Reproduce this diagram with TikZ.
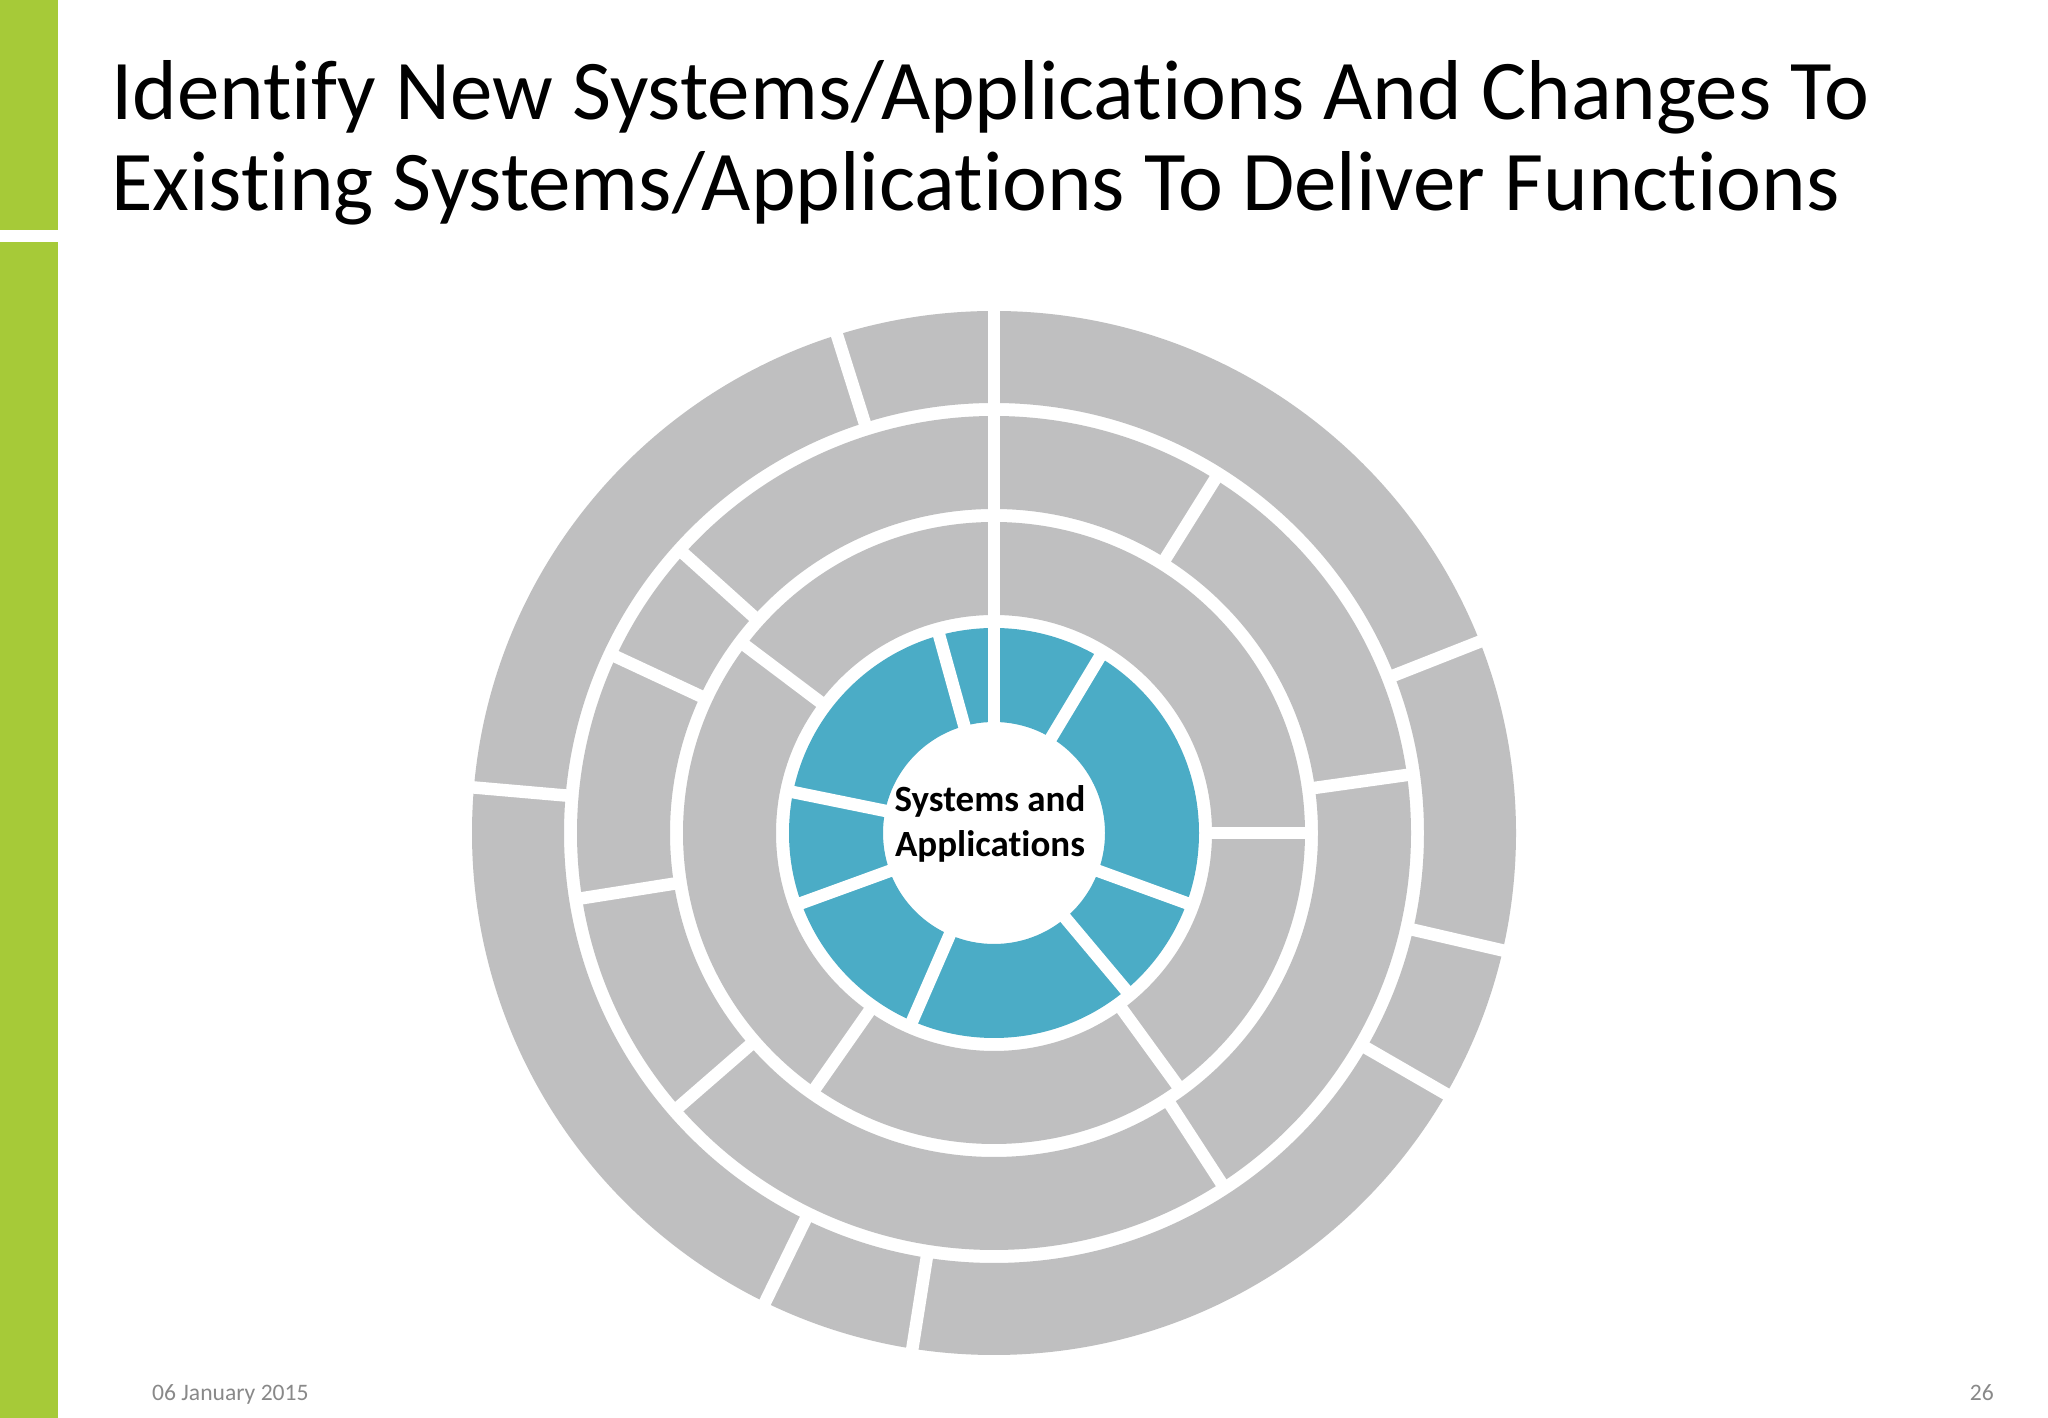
\documentclass[tikz,border=0pt]{standalone}
\usepackage{fontspec}
\setmainfont{Carlito}[Ligatures=NoCommon,RawFeature=-liga]
\definecolor{barGreen}{RGB}{166,202,56}
\definecolor{ringGray}{RGB}{191,191,192}
\definecolor{ringBlue}{RGB}{75,172,198}
\definecolor{footGray}{RGB}{137,137,137}
\begin{document}
\begin{tikzpicture}[x=1pt,y=1pt,
  gap/.style={draw=white,line width=12.5pt},
  titletext/.style={anchor=base west,inner sep=0pt,font=\fontsize{85}{91}\selectfont},
  foottext/.style={inner sep=0pt,text=footGray,font=\fontsize{23.6}{28}\selectfont},
  hubtext/.style={anchor=base,inner sep=0pt,font=\bfseries\fontsize{37}{45}\selectfont}]
\useasboundingbox (0,0) rectangle (2048,1418);
\fill[white] (0,0) rectangle (2048,1418);
% green side bar
\fill[barGreen] (0,1418) rectangle (57.7,1188);
\fill[barGreen] (0,1176) rectangle (57.7,0);
% title
\node[titletext] (t1) at (111,1298) {Identify New Systems/Applications And Changes To};
\node[titletext] (t2) at (111,1207.3) {Existing Systems/Applications To Deliver Functions};
% rings
\begin{scope}[shift={(994,585)}]
\coordinate (c) at (0,0);
\fill[ringGray,even odd rule] (0,0) circle[radius=522] circle[radius=430];
\fill[ringGray,even odd rule] (0,0) circle[radius=417] circle[radius=324];
\fill[ringGray,even odd rule] (0,0) circle[radius=311] circle[radius=218];
\fill[ringBlue,even odd rule] (0,0) circle[radius=205] circle[radius=111];
\foreach \a in {90,107.5,21.5,-13,-30,-99,-116,175}
  \draw[gap] (\a:427) -- (\a:525);
\foreach \a in {90,58,8,-57,-139,189,155,138}
  \draw[gap] (\a:321) -- (\a:420);
\foreach \a in {90,0,-54,-125,143}
  \draw[gap] (\a:215) -- (\a:314);
\foreach \a in {90,59,-20,-50,-113.5,200,168.5,105.5}
  \draw[gap] (\a:108) -- (\a:208);
\node[hubtext] (h1) at (-4,21) {Systems and};
\node[hubtext] (h2) at (-4,-24) {Applications};
\end{scope}
% footer
\node[foottext,anchor=base west] (date) at (152,17) {06 January 2015};
\node[foottext,anchor=base east] (page) at (1994,17) {26};
\end{tikzpicture}
\end{document}
